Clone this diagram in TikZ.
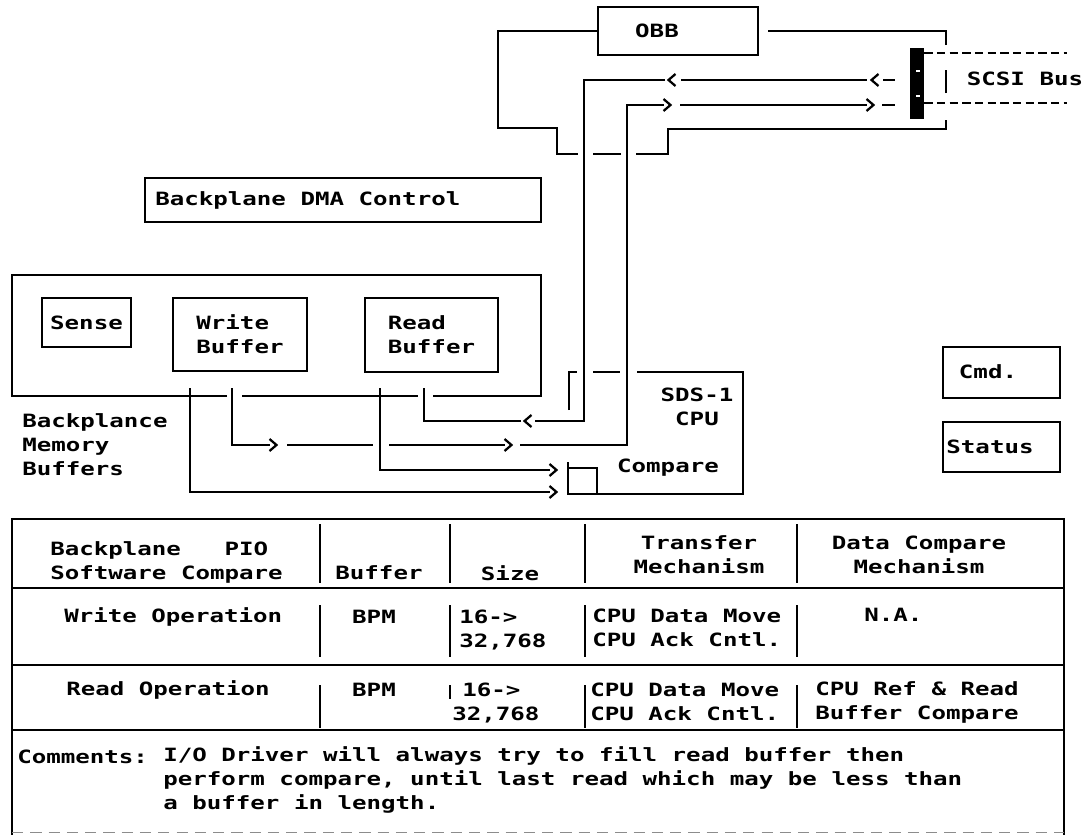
\documentclass[tikz,border=0pt]{standalone}
\usepackage{fontspec}
\usetikzlibrary{fit,calc}
\newfontfamily\dotfont[FakeStretch=1.32]{DejaVu Sans Mono}

\begin{document}
\begin{tikzpicture}[x=0.025cm, y=-0.025cm,
    box/.style={draw, line width=1.3pt, inner sep=0pt},
    txt/.style={inner sep=0pt, align=left, font=\dotfont\bfseries\fontsize{13pt}{17pt}\selectfont},
    wire/.style={line width=1.3pt},
    bus/.style={line width=1.3pt, dash pattern=on 6pt off 3pt},
    chevr/.pic={\draw[wire, line width=1.6pt] (-3.5,-6) -- (3.5,0) -- (-3.5,6);},
    chevl/.pic={\draw[wire, line width=1.6pt] (3.5,-6) -- (-3.5,0) -- (3.5,6);}
]
    \useasboundingbox (0,0) rectangle (1087,835);

    % --- OBB and its loop round the bus ---
    \node[box, fit={(598,7) (758,55)}] (obb) {};
    \node[txt] (obbtxt) at (657,31) {OBB};
    \draw[wire] (obb.west) -- (498,31) -- (498,128) -- (557,128) -- (557,154) -- (578,154);
    \draw[wire] (593,154) -- (621,154);
    \draw[wire] (636,154) -- (668,154) -- (668,129) -- (946,129) -- (946,120);
    \draw[wire] (946,93) -- (946,70);
    \draw[wire] (946,45) -- (946,31) -- ($(obb.east)+(9,0)$);

    % --- SCSI bus ---
    \node[fill, inner sep=0pt, fit={(910,48) (924,119)}] (bar) {};
    \draw[white, line width=1pt] (916,71) -- (920,71);
    \draw[white, line width=1pt] (916,96) -- (920,96);
    \draw[bus] (bar.east |- 0,53) -- (1067,53);
    \draw[bus] (bar.east |- 0,103) -- (1067,103);
    \node[txt] (scsi) at (1025,79) {SCSI Bus};

    % --- Backplane DMA Control ---
    \node[box, fit={(145,178) (541,222)}] (dma) {};
    \node[txt, anchor=west] (dmatxt) at (155,200) {Backplane DMA Control};

    % --- Memory buffer enclosure (bottom edge broken by the taps) ---
    \draw[wire] (227,396) -- (12,396) -- (12,275) -- (541,275) -- (541,396) -- (433,396);
    \draw[wire] (242,396) -- (418,396);
    \node[box, fit={(42,298) (131,347)}] (sense) {};
    \node[txt] (sensetxt) at (sense) {Sense};
    \node[box, fit={(173,298) (307,371)}] (wbuf) {};
    \node[txt] (wbuftxt) at (wbuf) {Write\\Buffer};
    \node[box, fit={(365,298) (498,372)}] (rbuf) {};
    \node[txt] (rbuftxt) at (rbuf) {Read\\Buffer};
    \node[txt, anchor=west] (bmbtxt) at (22,445) {Backplance\\Memory\\Buffers};

    \coordinate (wtap) at (232,388);
    \coordinate (rtap) at (424,388);
    \coordinate (ctap) at (380,388);
    \coordinate (stap) at (190,388);

    % --- read path: bus -> read buffer ---
    \draw[wire] (883,80) -- (895,80);
    \pic at (875,80) {chevl};
    \draw[wire] (681,80) -- (867,80);
    \pic at (672,80) {chevl};
    \draw[wire] (665,80) -- (584,80) -- (584,421) -- (535,421);
    \pic at (528,421) {chevl};
    \draw[wire] (521,421) -- (rtap |- 0,421) -- (rtap);

    % --- write path: write buffer -> bus ---
    \draw[wire] (wtap) -- (wtap |- 0,445) -- (270,445);
    \pic at (273,445) {chevr};
    \draw[wire] (287,445) -- (373,445);
    \draw[wire] (389,445) -- (505,445);
    \pic at (508,445) {chevr};
    \draw[wire] (520,445) -- (627,445) -- (627,105) -- (664,105);
    \pic at (667,105) {chevr};
    \draw[wire] (680,105) -- (867,105);
    \pic at (870,105) {chevr};
    \draw[wire] (882,105) -- (895,105);

    % --- compare paths ---
    \draw[wire] (ctap) -- (ctap |- 0,470) -- (550,470);
    \pic at (553,470) {chevr};
    \draw[wire] (stap) -- (stap |- 0,492) -- (550,492);
    \pic at (553,492) {chevr};

    % --- SDS-1 CPU ---
    \draw[wire] (569,410) -- (569,372) -- (577,372);
    \draw[wire] (593,372) -- (620,372);
    \draw[wire] (637,372) -- (743,372) -- (743,494) -- (568,494) -- (568,462);
    \draw[wire] (568,468) -- (597,468) -- (597,494);
    \node[txt, align=center] (cputxt) at (697,407) {SDS-1\\CPU};
    \node[txt] (cmptxt) at (668,468) {Compare};

    % --- Cmd / Status ---
    \node[box, fit={(943,347) (1060,398)}] (cmd) {};
    \node[txt] (cmdtxt) at (988,372) {Cmd.};
    \node[box, fit={(943,422) (1060,472)}] (status) {};
    \node[txt] (statustxt) at (990,447) {Status};

    % --- Table ---
    \draw[wire] (12,835) -- (12,519) -- (1064,519) -- (1064,835);
    \draw[black!45, line width=0.6pt, dash pattern=on 8pt off 5pt] (12,832) -- (1064,832);
    \foreach \y in {588,665,730}
        \draw[wire] (12,\y) -- (1064,\y);
    \foreach \x in {320,450,585,797} {
        \draw[wire] (\x,524) -- (\x,583);
        \draw[wire] (\x,605) -- (\x,657);
    }
    \foreach \x in {320,585,797}
        \draw[wire] (\x,685) -- (\x,728);
    \draw[wire] (450,685) -- (450,699);

    % header
    \node[txt, anchor=west] (hd1) at (50,562) {Backplane~~~PIO\\Software Compare};
    \node[txt] (hd2) at (379,573) {Buffer};
    \node[txt] (hd3) at (510,573) {Size};
    \node[txt, align=center] (hd4) at (699,555) {Transfer\\Mechanism};
    \node[txt, align=center] (hd5) at (919,555) {Data Compare\\Mechanism};

    % write row
    \node[txt, anchor=west] (wr1) at (64,617) {Write Operation};
    \node[txt] (wr2) at (374,617) {BPM};
    \node[txt, anchor=west] (wr3) at (459,630) {16->\\32,768};
    \node[txt, anchor=west] (wr4) at (592,628) {CPU Data Move\\CPU Ack Cntl.};
    \node[txt, anchor=west] (wr5) at (864,615) {N.A.};

    % read row
    \node[txt, anchor=west] (rd1) at (66,690) {Read Operation};
    \node[txt] (rd2) at (374,690) {BPM};
    \node[txt, anchor=west] (rd3a) at (462,690) {16->};
    \node[txt, anchor=west] (rd3b) at (452,715) {32,768};
    \node[txt, anchor=west] (rd4) at (590,702) {CPU Data Move\\CPU Ack Cntl.};
    \node[txt, anchor=west] (rd5) at (815,702) {CPU Ref \& Read\\Buffer Compare};

    % comments
    \node[txt, anchor=west] (cmlbl) at (17,757) {Comments:};
    \node[txt, anchor=west] (cmtxt) at (163,780) {I/O Driver will always try to fill read buffer then\\perform compare, until last read which may be less than\\a buffer in length.};
\end{tikzpicture}
\end{document}
